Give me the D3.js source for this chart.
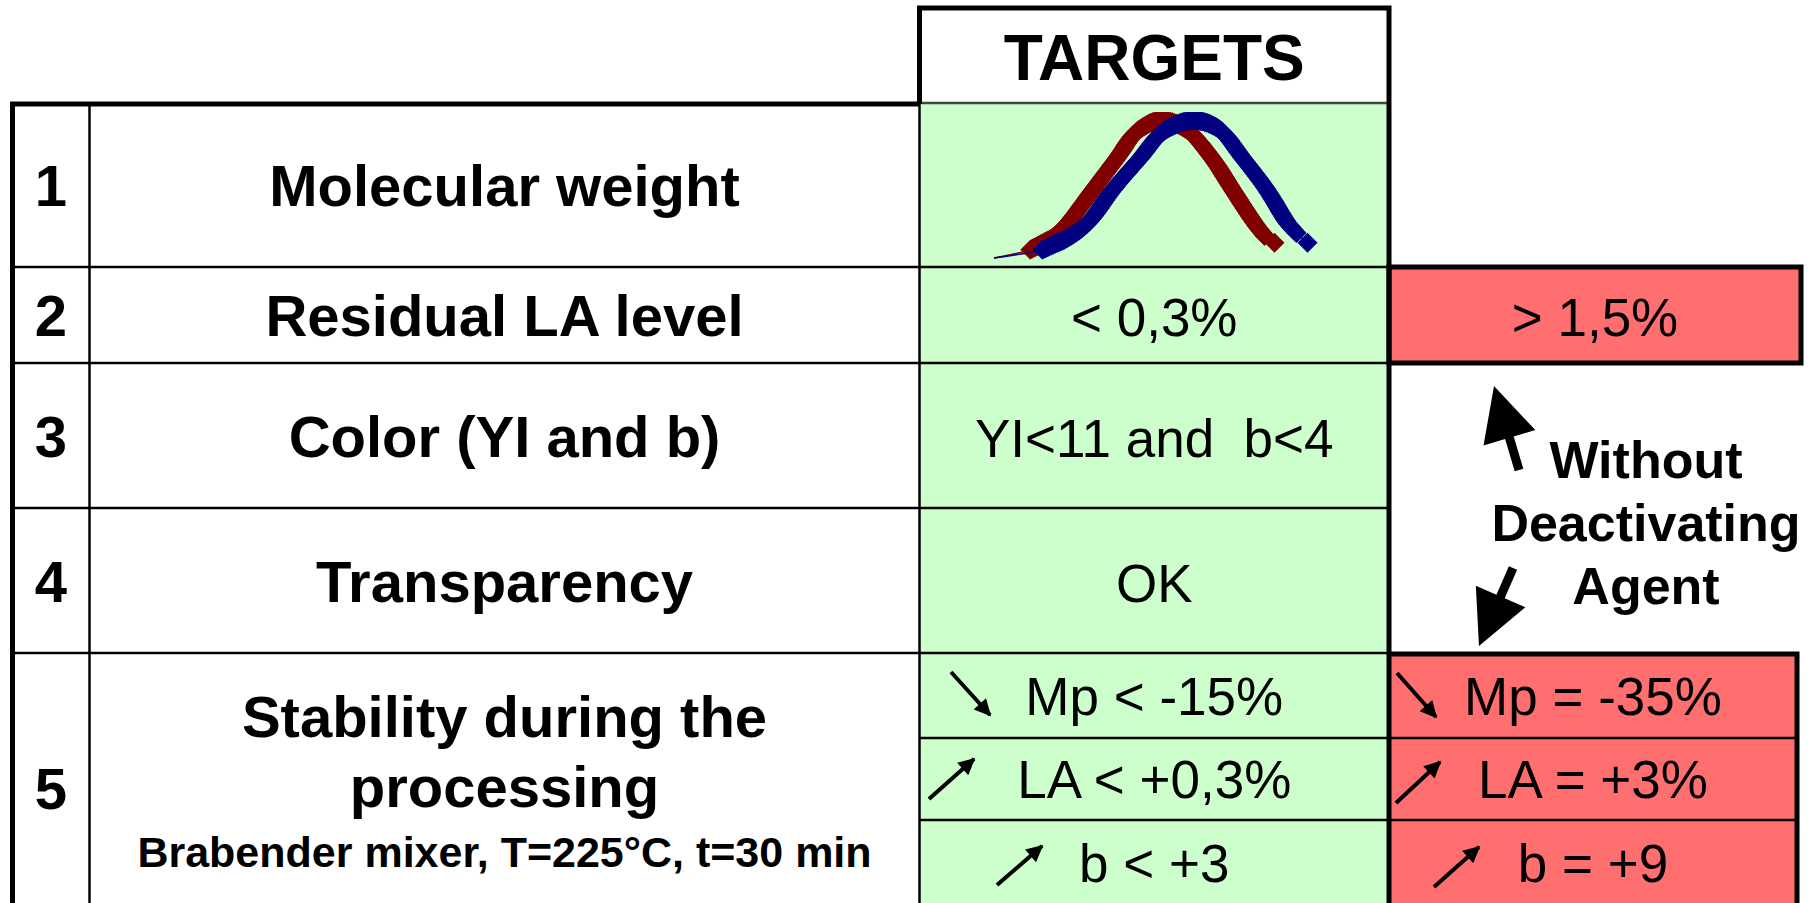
<!DOCTYPE html>
<html>
<head>
<meta charset="utf-8">
<script src="https://cdn.jsdelivr.net/npm/d3@7"></script>
<style>
body { margin: 0; background: #fff; }
svg { display: block; font-family: "Liberation Sans", Arial, sans-serif; }
</style>
</head>
<body>
<script>
// table content
const rowNumbers = ["1", "2", "3", "4", "5"]
const criteria = [["Molecular weight"], ["Residual LA level"], ["Color (YI and b)"], ["Transparency"], ["Stability during the", "processing"]]
const stabilityNote = "Brabender mixer, T=225°C, t=30 min"
const headerLabel = "TARGETS"
const targets = [null, "< 0,3%", "YI<11 and  b<4", "OK"]
const stabilityTargets = ["Mp < -15%", "LA < +0,3%", "b < +3"]
const stabilityTrend = ["down", "up", "up"]
const withoutAgentRow2 = "> 1,5%"
const stabilityWithout = ["Mp = -35%", "LA = +3%", "b = +9"]
const sideNote = ["Without", "Deactivating", "Agent"]

// molecular weight distributions shown in row 1 (log M, normalised w)
const redLogM = [3.00, 3.33, 3.45, 3.54, 3.67, 3.90, 4.12, 4.30, 4.51, 4.74, 4.98, 5.17, 5.37, 5.46, 5.55]
const redW    = [0.00, 0.06, 0.11, 0.15, 0.25, 0.49, 0.72, 0.91, 0.99, 0.93, 0.72, 0.49, 0.25, 0.16, 0.11]
const blueLogM = [3.00, 3.44, 3.55, 3.66, 3.85, 4.08, 4.33, 4.54, 4.81, 5.04, 5.26, 5.48, 5.67, 5.75, 5.85]
const blueW    = [0.00, 0.06, 0.10, 0.14, 0.25, 0.49, 0.72, 0.91, 0.99, 0.93, 0.72, 0.49, 0.25, 0.18, 0.11]

const W = 1809, H = 903
const GREEN = "#ccffcc", RED = "#ff6f6f"

const svg = d3.select("body").append("svg")
  .attr("width", W)
  .attr("height", H)

// layout
const colX = [12.5, 89.5, 919.5, 1389, 1799]
const rowY = [104, 267, 363, 508, 653, 940]
const subY = [653, 738, 820, 940]
const headerTop = 8

// fills
svg.append("rect").attr("x", colX[2]).attr("y", rowY[0]).attr("width", colX[3] - colX[2]).attr("height", H - rowY[0] + 40).attr("fill", GREEN)
svg.append("rect").attr("x", colX[3]).attr("y", rowY[1]).attr("width", 1801 - colX[3]).attr("height", rowY[2] - rowY[1]).attr("fill", RED)
svg.append("rect").attr("x", colX[3]).attr("y", rowY[4]).attr("width", 1797 - colX[3]).attr("height", H - rowY[4] + 40).attr("fill", RED)

// thin grid lines
const thin = svg.append("g").attr("stroke", "#000").attr("stroke-width", 2.5)
thin.selectAll("line.row")
  .data(rowY.slice(1, 5))
  .enter().append("line")
  .attr("x1", colX[0]).attr("x2", colX[3])
  .attr("y1", d => d).attr("y2", d => d)
thin.selectAll("line.sub")
  .data(subY.slice(1, 3))
  .enter().append("line")
  .attr("x1", colX[2]).attr("x2", 1797)
  .attr("y1", d => d).attr("y2", d => d)
thin.append("line").attr("x1", colX[1]).attr("x2", colX[1]).attr("y1", rowY[0]).attr("y2", H + 10)
thin.append("line").attr("x1", colX[2]).attr("x2", colX[2]).attr("y1", rowY[0]).attr("y2", H + 10)
thin.append("line").attr("x1", colX[2]).attr("x2", colX[3]).attr("y1", 103).attr("y2", 103).attr("stroke", "#444")

// thick borders
const thick = svg.append("g").attr("stroke", "#000").attr("stroke-width", 5).attr("fill", "none")
thick.append("path").attr("d", `M${colX[0]},${H + 10}V${rowY[0]}H${colX[2]}`)
thick.append("path").attr("d", `M${colX[2]},${rowY[0]}V${headerTop}H${colX[3]}V${H + 10}`)
thick.append("rect").attr("x", colX[3]).attr("y", rowY[1]).attr("width", 1801 - colX[3]).attr("height", rowY[2] - rowY[1])
thick.append("path").attr("d", `M${colX[3]},${rowY[4] + 1}H1797V${H + 10}`)

// text
const numX = (colX[0] + colX[1]) / 2
const labX = (colX[1] + colX[2]) / 2
const tgtX = (colX[2] + colX[3]) / 2
const redX = (colX[3] + 1797) / 2

svg.append("text").attr("x", tgtX).attr("y", 80).attr("text-anchor", "middle")
  .attr("font-weight", "bold").attr("font-size", 64).text(headerLabel)

const rowBase = [206, 336, 457, 602, 809]
svg.selectAll("text.num")
  .data(rowNumbers)
  .enter().append("text")
  .attr("x", numX).attr("y", (d, i) => rowBase[i])
  .attr("text-anchor", "middle").attr("font-weight", "bold").attr("font-size", 58)
  .text(d => d)

const labelBase = [[206], [336], [457], [602], [737, 807]]
criteria.forEach((lines, i) => {
  svg.selectAll(null)
    .data(lines)
    .enter().append("text")
    .attr("x", labX).attr("y", (d, j) => labelBase[i][j])
    .attr("text-anchor", "middle").attr("font-weight", "bold").attr("font-size", 58)
    .text(d => d)
})
svg.append("text").attr("x", labX).attr("y", 867).attr("text-anchor", "middle")
  .attr("font-weight", "bold").attr("font-size", 43).text(stabilityNote)

svg.selectAll("text.tgt")
  .data(targets.map((t, i) => ({ t, i })).filter(d => d.t !== null))
  .enter().append("text")
  .attr("x", tgtX).attr("y", d => rowBase[d.i])
  .attr("text-anchor", "middle").attr("font-size", 53)
  .style("white-space", "pre")
  .text(d => d.t)

svg.append("text").attr("x", redX + 2).attr("y", 336).attr("text-anchor", "middle")
  .attr("font-size", 53).text(withoutAgentRow2)

const subBase = [715, 798, 882]
svg.selectAll("text.st")
  .data(stabilityTargets)
  .enter().append("text")
  .attr("x", tgtX).attr("y", (d, i) => subBase[i])
  .attr("text-anchor", "middle").attr("font-size", 53)
  .text(d => d)
svg.selectAll("text.sw")
  .data(stabilityWithout)
  .enter().append("text")
  .attr("x", redX).attr("y", (d, i) => subBase[i])
  .attr("text-anchor", "middle").attr("font-size", 53)
  .text(d => d)

svg.selectAll("text.side")
  .data(sideNote)
  .enter().append("text")
  .attr("x", 1646).attr("y", (d, i) => 478 + i * 63)
  .attr("text-anchor", "middle").attr("font-weight", "bold").attr("font-size", 52)
  .text(d => d)

// small trend arrows in row 5
svg.append("defs").append("marker")
  .attr("id", "head")
  .attr("viewBox", "0 0 10 10")
  .attr("refX", 9).attr("refY", 5)
  .attr("markerWidth", 4.6).attr("markerHeight", 4.2)
  .attr("orient", "auto")
  .append("path").attr("d", "M0,0L10,5L0,10z").attr("fill", "#000")

const trendOffsets = {
  green: [[951, 672, 990, 715], [929, 799, 974, 759], [997, 885, 1042, 846]],
  red: [[1397, 673, 1436, 717], [1396, 803, 1440, 762], [1434, 887, 1479, 847]]
}
;["green", "red"].forEach(k => {
  svg.selectAll(null)
    .data(stabilityTrend)
    .enter().append("line")
    .attr("x1", (d, i) => trendOffsets[k][i][0])
    .attr("y1", (d, i) => trendOffsets[k][i][1])
    .attr("x2", (d, i) => trendOffsets[k][i][2])
    .attr("y2", (d, i) => trendOffsets[k][i][3])
    .attr("stroke", "#000").attr("stroke-width", 4)
    .attr("marker-end", "url(#head)")
})

// big block arrows around the side note
function blockArrow(x0, y0, x1, y1, headLen, headW, shaftW) {
  const dx = x1 - x0, dy = y1 - y0
  const L = Math.hypot(dx, dy)
  const ux = dx / L, uy = dy / L, px = -uy, py = ux
  const bx = x1 - ux * headLen, by = y1 - uy * headLen
  const pts = [
    [x0 + px * shaftW / 2, y0 + py * shaftW / 2],
    [bx + px * shaftW / 2, by + py * shaftW / 2],
    [bx + px * headW / 2, by + py * headW / 2],
    [x1, y1],
    [bx - px * headW / 2, by - py * headW / 2],
    [bx - px * shaftW / 2, by - py * shaftW / 2],
    [x0 - px * shaftW / 2, y0 - py * shaftW / 2]
  ]
  return "M" + pts.map(p => p.join(",")).join("L") + "Z"
}
svg.append("path").attr("d", blockArrow(1519, 470, 1494, 386, 54, 54, 9)).attr("fill", "#000")
svg.append("path").attr("d", blockArrow(1513, 568, 1479, 646, 54, 54, 9)).attr("fill", "#000")

// mini distribution chart in row 1
const xScale = d3.scaleLinear().domain([3, 6]).range([994, 1324])
const yScale = d3.scaleLinear().domain([0, 1]).range([258, 119])

svg.append("clipPath").attr("id", "plot")
  .append("rect").attr("x", 921).attr("y", 112).attr("width", 466).attr("height", 152)

const plot = svg.append("g").attr("clip-path", "url(#plot)")
const lineGen = d3.line().x(d => xScale(d[0])).y(d => yScale(d[1])).curve(d3.curveCatmullRom)

function drawSeries(xs, ys, color) {
  const pts = xs.map((x, i) => [x, ys[i]])
  plot.append("path").attr("d", lineGen(pts)).attr("fill", "none")
    .attr("stroke", color).attr("stroke-width", 1.5)
  // dense diamond markers along the marked part
  const marked = pts.slice(1, pts.length - 1)
  const tmp = plot.append("path").attr("d", lineGen(marked)).attr("fill", "none").attr("stroke", "none")
  const node = tmp.node()
  const len = node.getTotalLength()
  const samples = d3.range(0, len, 2).map(l => node.getPointAtLength(l))
  samples.push(node.getPointAtLength(len))
  const last = pts[pts.length - 1]
  samples.push({ x: xScale(last[0]), y: yScale(last[1]) })
  const r = 10
  plot.selectAll(null)
    .data(samples)
    .enter().append("path")
    .attr("d", d => `M${d.x},${d.y - r}L${d.x + r},${d.y}L${d.x},${d.y + r}L${d.x - r},${d.y}Z`)
    .attr("fill", color)
  tmp.remove()
}
drawSeries(redLogM, redW, "#800000")
drawSeries(blueLogM, blueW, "#000080")
</script>
</body>
</html>
